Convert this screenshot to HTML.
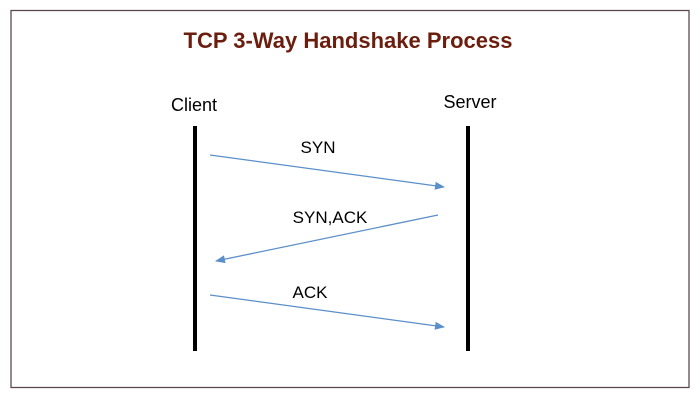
<!DOCTYPE html>
<html><head><style>
html,body{margin:0;padding:0;background:#fff;}
</style></head><body>
<svg width="700" height="400" xmlns="http://www.w3.org/2000/svg" style="display:block">
<defs>
<marker id="a" markerWidth="10" markerHeight="8" refX="9" refY="4" orient="auto" markerUnits="userSpaceOnUse">
<path d="M0,0 L10,4 L0,8 Z" fill="#5b8fc9"/>
</marker>
</defs>
<rect x="11" y="10.5" width="678" height="377" fill="#fff" stroke="#5a4a50" stroke-width="1.3"/>
<text x="348" y="48" text-anchor="middle" font-family="Liberation Sans, sans-serif" font-weight="bold" font-size="22" fill="#6b1e0e">TCP 3-Way Handshake Process</text>
<text x="194" y="111" text-anchor="middle" font-family="Liberation Sans, sans-serif" font-size="18" fill="#000">Client</text>
<text x="470" y="108" text-anchor="middle" font-family="Liberation Sans, sans-serif" font-size="18" fill="#000">Server</text>
<line x1="195" y1="126" x2="195" y2="351" stroke="#000" stroke-width="4"/>
<line x1="468" y1="126" x2="468" y2="351" stroke="#000" stroke-width="4"/>
<line x1="210" y1="155" x2="444" y2="187" stroke="#5b8fc9" stroke-width="1.3" marker-end="url(#a)"/>
<line x1="438" y1="215" x2="216" y2="261" stroke="#5b8fc9" stroke-width="1.3" marker-end="url(#a)"/>
<line x1="210" y1="295" x2="444" y2="327" stroke="#5b8fc9" stroke-width="1.3" marker-end="url(#a)"/>
<text x="318" y="153" text-anchor="middle" font-family="Liberation Sans, sans-serif" font-size="17" fill="#000">SYN</text>
<text x="330" y="223" text-anchor="middle" font-family="Liberation Sans, sans-serif" font-size="17" fill="#000">SYN,ACK</text>
<text x="310" y="298" text-anchor="middle" font-family="Liberation Sans, sans-serif" font-size="17" fill="#000">ACK</text>
</svg>
</body></html>
